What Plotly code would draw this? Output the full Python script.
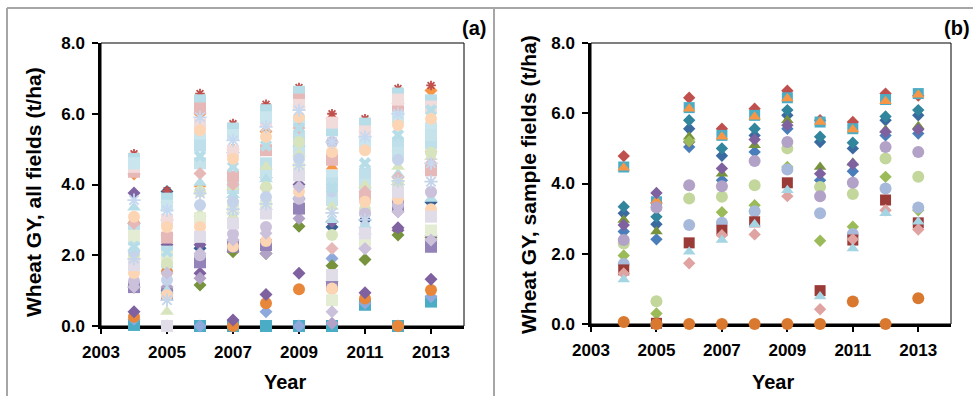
import plotly.graph_objects as go

# ---------------- data ----------------
YEARS = [2004, 2005, 2006, 2007, 2008, 2009, 2010, 2011, 2012, 2013]
X_TICKS = [2003, 2005, 2007, 2009, 2011, 2013]
Y_TICKS = [0, 2, 4, 6, 8]

# Panel (a): all fields (Wheat GY, t/ha), one list per field
a_purple_diamond = [0.40, 2.30, 1.49, 0.17, 0.89, 1.49, 1.25, 0.94, 2.71, 1.32]
a_orange_circle = [0.26, 1.53, 2.95, 0.00, 0.64, 1.04, 1.06, 0.78, 0.00, 1.02]
a_teal_square = [0.03, 0.00, 0.00, 0.00, 0.00, 0.00, 0.00, 0.60, 0.00, 0.69]
a_blue_diamond = [0.19, 0.00, 0.00, 0.00, 0.40, 0.00, 1.91, 0.64, 0.00, 0.83]
a_olive_diamond = [1.10, 1.00, 1.16, 2.10, 2.05, 2.82, 1.70, 1.88, 2.57, 2.50]
a_lilac_diamond = [1.10, 1.10, 1.35, 2.43, 2.05, 3.04, 0.08, 2.19, 3.23, 2.43]
a_navy_diamond = [2.90, 3.80, 2.20, 4.90, 4.20, 3.60, 2.80, 3.00, 4.00, 3.50]
a_violet_square = [1.10, 0.90, 1.80, 2.24, 2.29, 3.32, 1.25, 2.60, 3.40, 2.24]
a_plum_diamond = [3.76, 3.00, 2.30, 3.20, 3.30, 4.00, 2.95, 2.60, 2.78, 2.55]
a_amber_diamond = [4.30, 3.50, 6.00, 5.00, 5.50, 6.20, 5.86, 5.50, 6.30, 6.66]
a_amber_triangle = [3.00, 2.00, 4.00, 3.60, 4.00, 5.00, 4.50, 4.00, 5.00, 5.00]
a_red_star = [4.87, 3.82, 6.57, 5.72, 6.27, 6.74, 6.00, 5.86, 6.71, 6.80]
a_ice_square = [4.72, 3.60, 6.38, 5.58, 6.10, 6.62, 5.53, 5.72, 6.57, 6.38]
a_rose_square = [4.36, 2.50, 6.15, 4.22, 4.97, 6.40, 4.70, 3.65, 6.19, 4.40]
a_shell_square = [4.50, 3.00, 5.70, 4.95, 5.80, 6.25, 5.75, 5.50, 6.40, 6.20]
a_frost_square = [4.60, 3.40, 5.30, 5.40, 5.90, 5.80, 4.25, 5.15, 5.90, 5.60]
a_aqua_square = [2.70, 2.10, 5.10, 3.90, 4.60, 5.35, 4.03, 4.31, 5.16, 5.16]
a_mist_square = [2.45, 1.80, 4.60, 3.30, 4.30, 5.00, 3.56, 4.00, 4.90, 5.40]
a_lagoon_triangle = [3.35, 1.00, 4.05, 3.70, 4.15, 5.15, 3.00, 2.85, 4.30, 3.60]
a_mint_triangle = [2.20, 0.40, 3.18, 3.93, 4.50, 4.87, 3.37, 3.98, 4.50, 4.78]
a_linen_square = [2.55, 1.95, 3.05, 3.35, 3.40, 4.45, 0.73, 2.40, 3.95, 2.70]
a_blush_diamond = [2.90, 2.57, 4.31, 4.00, 3.90, 5.60, 2.19, 3.80, 4.20, 4.60]
a_sage_circle = [2.00, 1.77, 3.80, 3.00, 3.93, 5.20, 2.57, 3.30, 4.03, 4.90]
a_cloud_circle = [2.10, 1.30, 3.42, 3.51, 3.65, 4.73, 3.80, 3.18, 4.70, 3.79]
a_heather_circle = [1.27, 0.87, 2.00, 2.60, 2.80, 3.60, 5.20, 3.18, 3.42, 3.79]
a_apricot_circle = [1.50, 0.87, 2.80, 2.25, 2.40, 3.80, 1.06, 3.51, 3.60, 3.30]
a_pale_square = [1.72, 0.00, 2.52, 2.90, 3.18, 4.26, 1.44, 2.62, 3.79, 3.09]
a_lilac_pale_diamond = [1.10, 1.50, 2.05, 2.43, 2.62, 3.93, 0.40, 2.19, 3.23, 2.43]
a_ice_cross = [2.24, 2.10, 4.80, 4.50, 5.10, 5.60, 3.90, 4.60, 5.40, 6.10]
a_peach_circle = [3.09, 2.80, 5.53, 4.73, 5.35, 5.91, 4.92, 4.97, 5.68, 5.86]
a_snow_star = [1.90, 0.73, 3.75, 3.30, 3.45, 4.55, 3.20, 3.00, 4.10, 4.08]
a_frost_star = [3.56, 3.27, 5.90, 5.25, 5.63, 6.10, 5.20, 5.35, 6.00, 4.60]

# Panel (b): sample fields
b_red_diamond = [4.78, 3.45, 6.44, 5.56, 6.13, 6.64, 5.80, 5.75, 6.56, 6.50]
b_teal_square = [4.47, 3.48, 6.16, 5.37, 5.94, 6.44, 5.75, 5.56, 6.39, 6.56]
b_orange_triangle = [4.45, 3.50, 6.13, 5.33, 5.90, 6.42, 5.75, 5.54, 6.34, 6.53]
b_navy_diamond = [3.15, 2.84, 5.56, 4.79, 5.37, 5.94, 5.18, 5.00, 5.80, 5.94]
b_teal_diamond = [3.34, 3.05, 5.80, 5.00, 5.56, 6.09, 5.33, 5.16, 5.91, 6.09]
b_blue_diamond = [2.63, 2.41, 5.04, 4.09, 4.90, 5.56, 4.09, 4.35, 5.37, 5.42]
b_olive_triangle = [2.96, 2.63, 5.33, 4.28, 5.09, 5.80, 4.47, 4.59, 5.52, 5.63]
b_purple_diamond = [2.82, 3.73, 5.18, 4.43, 5.25, 5.66, 4.28, 4.55, 5.47, 5.54]
b_green_diamond = [1.95, 0.30, 5.20, 3.18, 3.38, 4.47, 2.37, 2.77, 4.19, 3.24]
b_sage_circle = [2.29, 0.65, 3.57, 3.62, 3.95, 5.00, 3.90, 3.70, 4.71, 4.19]
b_lavender_circle = [2.39, 3.32, 3.95, 3.92, 4.64, 5.18, 3.64, 4.02, 5.04, 4.90]
b_steel_circle = [1.71, 0.00, 2.82, 2.88, 3.21, 4.40, 3.15, 2.56, 3.86, 3.32]
b_maroon_square = [1.54, 0.02, 2.31, 2.67, 2.91, 4.02, 0.95, 2.39, 3.53, 2.88]
b_pink_diamond = [1.44, 0.00, 1.73, 2.53, 2.55, 3.64, 0.42, 2.41, 3.24, 2.69]
b_sky_triangle = [1.27, 0.00, 2.06, 2.39, 2.84, 3.81, 0.78, 2.15, 3.15, 2.91]
b_orange_circle = [0.06, 0.00, 0.00, 0.00, 0.00, 0.00, 0.00, 0.64, 0.00, 0.73]

# ---------------- styles ----------------
# (values, symbol, colour, size) in drawing order
A_STYLE = [
    (a_teal_square, "square", "#4BACC6", 12),
    (a_blue_diamond, "diamond", "#8EA9DB", 10),
    (a_orange_circle, "circle", "#E8873A", 12),
    (a_purple_diamond, "diamond", "#7F61A0", 10),
    (a_olive_diamond, "diamond", "#77933C", 10),
    (a_lilac_diamond, "diamond", "#B3A2C7", 10),
    (a_navy_diamond, "diamond", "#366092", 10),
    (a_violet_square, "square", "#9483B8", 12),
    (a_plum_diamond, "diamond", "#8064A2", 10),
    (a_amber_diamond, "diamond", "#F79646", 10),
    (a_amber_triangle, "triangle-up", "#F79646", 11),
    (a_red_star, "asterisk", "#C0504D", 8),
    (a_ice_square, "square", "#B7DEE8", 12),
    (a_rose_square, "square", "#E6B9B8", 12),
    (a_shell_square, "square", "#F2DCDB", 12),
    (a_frost_square, "square", "#C9E6EF", 12),
    (a_aqua_square, "square", "#BFE0EA", 12),
    (a_mist_square, "square", "#C6E3EC", 12),
    (a_lagoon_triangle, "triangle-up", "#B7DEE8", 12),
    (a_mint_triangle, "triangle-up", "#D7E4BD", 12),
    (a_linen_square, "square", "#E4EDD3", 12),
    (a_blush_diamond, "diamond", "#E6B9B8", 10),
    (a_sage_circle, "circle", "#D7E4BD", 12),
    (a_cloud_circle, "circle", "#C5D3EA", 12),
    (a_heather_circle, "circle", "#CCC1DA", 12),
    (a_apricot_circle, "circle", "#FCD5B5", 12),
    (a_pale_square, "square", "#E0DCE8", 12),
    (a_lilac_pale_diamond, "diamond", "#CCC1DA", 10),
    (a_ice_cross, "x", "#B7DEE8", 11),
    (a_peach_circle, "circle", "#FCD5B5", 12),
    (a_snow_star, "asterisk", "#C5D5EA", 11),
    (a_frost_star, "asterisk", "#C6D9F1", 11),
]

B_STYLE = [
    (b_red_diamond, "diamond", "#C0504D", 9.5),
    (b_teal_square, "square", "#4BACC6", 11),
    (b_orange_triangle, "triangle-up", "#F79646", 11),
    (b_navy_diamond, "diamond", "#3A6AA0", 9.5),
    (b_teal_diamond, "diamond", "#31859C", 9.5),
    (b_blue_diamond, "diamond", "#4A7EBB", 9.5),
    (b_olive_triangle, "triangle-up", "#77933C", 11),
    (b_purple_diamond, "diamond", "#7F61A0", 9.5),
    (b_green_diamond, "diamond", "#9BBB59", 9.5),
    (b_sage_circle, "circle", "#C3D69B", 12),
    (b_lavender_circle, "circle", "#B3A2C7", 12),
    (b_steel_circle, "circle", "#A6B9DB", 12),
    (b_maroon_square, "square", "#9B3B38", 11),
    (b_pink_diamond, "diamond", "#DFA3A2", 9.5),
    (b_sky_triangle, "triangle-up", "#A5D5E2", 11),
    (b_orange_circle, "circle", "#D9782F", 12),
]

FONT = "Liberation Sans, Arial, Helvetica, sans-serif"
W, H = 973, 396


def px_x(v):
    return v / W


def px_y(v):
    return (H - v) / H


fig = go.Figure()


def add_panel(styles, xa, ya):
    for vals, sym, col, size in styles:
        if sym == "asterisk":
            marker = dict(symbol=sym, size=size, color=col, line=dict(color=col, width=1.8))
        else:
            marker = dict(symbol=sym, size=size, color=col, line=dict(width=0))
        fig.add_trace(go.Scatter(x=YEARS, y=vals, mode="markers", marker=marker,
                                 xaxis=xa, yaxis=ya, cliponaxis=False,
                                 showlegend=False, hoverinfo="skip"))


add_panel(A_STYLE, "x", "y")
add_panel(B_STYLE, "x2", "y2")

xcommon = dict(range=[2003, 2014], tickvals=X_TICKS, ticks="outside", ticklen=5,
               tickwidth=2, tickcolor="black", showline=True, linewidth=2.5,
               linecolor="black", showgrid=False, zeroline=False, automargin=False,
               layer="below traces", ticklabelstandoff=4,
               tickfont=dict(family=FONT, size=17, color="black", weight="bold"))
ycommon = dict(range=[0, 8], tickvals=Y_TICKS, tickformat=".1f", ticks="outside",
               ticklen=6, tickwidth=2, tickcolor="black", showline=True,
               linewidth=2.5, linecolor="black", showgrid=False, zeroline=False,
               automargin=False, layer="below traces", ticklabelstandoff=4,
               tickfont=dict(family=FONT, size=17, color="black", weight="bold"))

fig.update_layout(
    template="none",
    width=W, height=H, margin=dict(l=0, r=0, t=0, b=0, pad=0, autoexpand=False),
    paper_bgcolor="white", plot_bgcolor="white", showlegend=False,
    xaxis=dict(domain=[px_x(101), px_x(464)], anchor="y", **xcommon),
    yaxis=dict(domain=[px_y(326), px_y(43)], anchor="x", **ycommon),
    xaxis2=dict(domain=[px_x(591), px_x(951)], anchor="y2", **xcommon),
    yaxis2=dict(domain=[px_y(324), px_y(43)], anchor="x2", **ycommon),
)

shapes = []
for xr, yr in [("x domain", "y domain"), ("x2 domain", "y2 domain")]:
    shapes.append(dict(type="rect", xref=xr, yref=yr, x0=0, x1=1, y0=0, y1=1,
                       line=dict(color="black", width=1), layer="below"))
gray = dict(color="#A6A6A6", width=2)
shapes.append(dict(type="line", xref="paper", yref="paper", x0=px_x(7), x1=1.0,
                   y0=px_y(8), y1=px_y(8), line=gray))
shapes.append(dict(type="line", xref="paper", yref="paper", x0=px_x(7), x1=px_x(7),
                   y0=px_y(8), y1=0, line=gray))
shapes.append(dict(type="line", xref="paper", yref="paper", x0=px_x(494), x1=px_x(494),
                   y0=px_y(8), y1=0, line=gray))
fig.update_layout(shapes=shapes)


def ann(text, x, y, size, angle=0, xanchor="center"):
    return dict(text=text, x=px_x(x), y=px_y(y), xref="paper", yref="paper",
                showarrow=False, textangle=angle, xanchor=xanchor, yanchor="middle",
                font=dict(family=FONT, size=size, color="black", weight="bold"))


fig.update_layout(annotations=[
    ann("(a)", 488, 28, 20, xanchor="right"),
    ann("(b)", 972, 28, 20, xanchor="right"),
    ann("Wheat GY, all fields (t/ha)", 33, 192, 21, angle=-90),
    ann("Wheat GY, sample fields (t/ha)", 529, 185, 21, angle=-90),
    ann("Year", 285, 382, 20),
    ann("Year", 773, 382, 20),
])

fig.write_html("out.html", config={"displayModeBar": False},
               post_script="document.body.style.margin='0';document.body.style.padding='0';document.body.style.overflow='hidden';")
